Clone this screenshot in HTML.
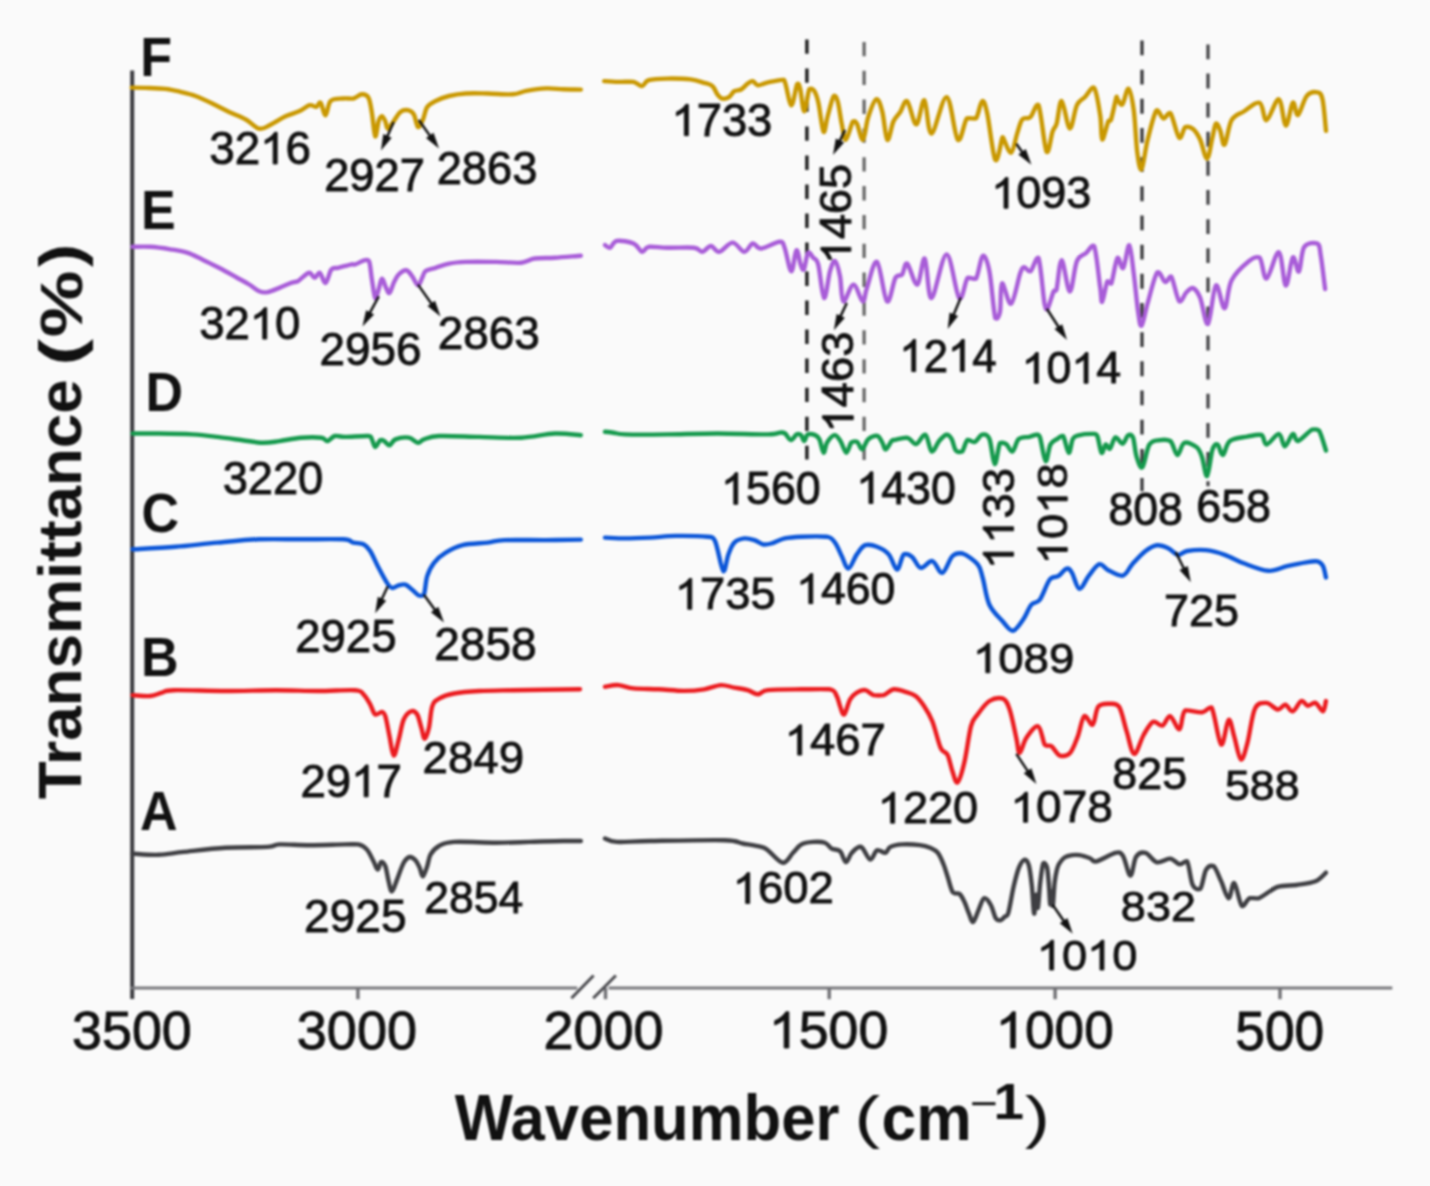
<!DOCTYPE html>
<html><head><meta charset="utf-8"><style>
html,body{margin:0;padding:0;background:#fafafa;}
svg{display:block;filter:blur(1.0px);}
text{font-family:"Liberation Sans",sans-serif;}
</style></head><body>
<svg width="1430" height="1186" viewBox="0 0 1430 1186">
<rect x="0" y="0" width="1430" height="1186" fill="#fafafa"/>

<line x1="806.9" y1="39.4" x2="806.9" y2="459.5" stroke="#1c1c1c" stroke-width="3.4" stroke-dasharray="14.4 14.62"/>
<line x1="864.1" y1="41.9" x2="864.1" y2="461" stroke="#636363" stroke-width="3.2" stroke-dasharray="14.3 14.54"/>
<line x1="1142" y1="40.5" x2="1142" y2="491.3" stroke="#333336" stroke-width="3.2" stroke-dasharray="14.8 14.37"/>
<line x1="1208" y1="44.5" x2="1208" y2="486.2" stroke="#404043" stroke-width="3.2" stroke-dasharray="14.8 14.31"/>
<line x1="132.2" y1="70.5" x2="132.2" y2="999" stroke="#3a3a3e" stroke-width="4"/>
<line x1="130.2" y1="988" x2="577.3" y2="988" stroke="#77777b" stroke-width="3.2"/>
<line x1="608.6" y1="988" x2="1392.3" y2="988" stroke="#77777b" stroke-width="3.2"/>
<line x1="357.9" y1="988" x2="357.9" y2="999.2" stroke="#6f6f73" stroke-width="3.4"/>
<line x1="605.5" y1="988" x2="605.5" y2="999.2" stroke="#6f6f73" stroke-width="3.4"/>
<line x1="829.2" y1="988" x2="829.2" y2="999.2" stroke="#6f6f73" stroke-width="3.4"/>
<line x1="1055.1" y1="988" x2="1055.1" y2="999.2" stroke="#6f6f73" stroke-width="3.4"/>
<line x1="1280" y1="988" x2="1280" y2="999.2" stroke="#6f6f73" stroke-width="3.4"/>
<line x1="571.4" y1="998.2" x2="593.6" y2="975.5" stroke="#4a4a4e" stroke-width="3"/>
<line x1="593.2" y1="998.2" x2="615.9" y2="975.5" stroke="#4a4a4e" stroke-width="3"/>
<path d="M131.7,87.6 C133.9,87.6 139.5,87.7 145.1,87.9 C150.7,88.1 159.4,88.2 165.3,88.9 C171.2,89.5 175.4,90.6 180.4,91.8 C185.4,93.0 190.2,94.0 195.5,96.0 C200.8,98.0 206.7,100.8 212.3,103.5 C217.9,106.2 223.5,109.2 229.1,111.9 C234.7,114.6 240.8,116.7 245.8,119.5 C250.8,122.3 255.1,127.9 259.3,128.7 C263.5,129.5 266.5,126.6 271.0,124.5 C275.5,122.4 281.3,118.3 286.1,116.1 C290.9,113.9 295.7,112.9 299.6,111.1 C303.5,109.3 306.8,105.9 309.6,105.2 C312.4,104.5 314.5,107.3 316.3,106.9 C318.1,106.5 318.9,101.6 320.5,102.7 C322.1,104.1 323.9,115.6 325.6,115.3 C327.3,115.0 327.7,103.8 330.6,101.0 C333.5,98.2 339.4,98.9 343.2,98.5 C347.0,98.1 350.3,99.0 353.4,98.5 C356.5,97.8 359.3,94.4 361.8,94.3 C364.3,94.2 366.8,94.6 368.5,97.7 C370.2,100.8 370.8,106.4 371.9,112.8 C373.0,119.2 374.1,134.9 375.2,136.3 C376.3,137.7 377.5,124.6 378.6,121.2 C379.7,117.8 380.8,116.1 381.9,116.1 C383.0,116.1 384.3,119.1 385.3,121.2 C386.3,123.3 386.4,128.7 387.8,128.7 C389.2,128.7 391.6,124.0 393.7,121.2 C395.8,118.4 398.0,113.7 400.4,111.9 C402.8,110.1 405.7,109.8 407.9,110.2 C410.1,110.6 412.1,111.6 413.8,114.4 C415.5,117.2 416.5,126.2 418.0,127.0 C419.5,127.8 421.5,122.8 423.0,119.5 C424.5,116.2 425.1,110.0 427.2,106.9 C429.3,103.8 432.0,102.8 435.6,101.0 C439.2,99.2 444.1,97.2 449.1,96.0 C454.1,94.8 459.4,93.9 465.8,93.5 C472.2,93.1 479.9,93.4 487.7,93.5 C495.5,93.6 506.4,94.7 512.8,94.3 C519.2,93.9 520.7,91.9 526.3,90.9 C531.9,89.9 540.2,88.7 546.4,88.4 C552.5,88.1 557.5,89.1 563.2,89.3 C568.9,89.5 577.9,89.5 580.8,89.6" fill="none" stroke="#c99800" stroke-width="4.4" stroke-linejoin="round" stroke-linecap="round"/>
<path d="M604.2,81.1 C606.9,81.2 615.2,81.8 620.1,81.9 C625.0,82.0 630.0,81.4 633.6,81.9 C637.2,82.6 639.5,86.4 642.0,86.1 C644.5,85.8 644.5,81.5 648.7,80.2 C652.9,79.0 660.1,78.7 667.1,78.6 C674.1,78.5 684.4,78.7 690.6,79.4 C696.8,80.1 700.5,81.7 704.1,82.8 C707.8,83.9 710.3,84.1 712.5,86.1 C714.7,88.0 715.8,92.4 717.5,94.5 C719.2,96.6 720.5,98.3 722.5,98.7 C724.5,99.1 727.2,98.2 729.2,97.0 C731.2,95.8 732.3,92.5 734.3,91.2 C736.3,90.0 738.8,90.8 741.0,89.5 C743.2,88.2 745.8,85.0 747.7,83.6 C749.7,82.2 751.0,80.8 752.7,81.1 C754.4,81.4 755.5,85.0 757.8,85.3 C760.0,85.6 763.4,83.5 766.2,82.8 C769.0,82.1 771.6,81.6 774.6,81.1 C777.6,80.6 781.2,79.3 784.0,80.0 C786.8,84.0 788.9,104.6 791.1,105.3 C793.3,106.0 795.7,86.8 797.2,84.1 C798.7,82.8 799.0,84.5 800.2,89.1 C801.4,93.6 802.8,111.4 804.3,111.4 C805.8,111.4 807.7,92.5 809.4,89.1 C811.1,88.3 812.9,88.8 814.4,91.2 C815.9,93.6 817.0,96.5 818.5,103.3 C820.0,110.0 822.0,129.5 823.5,131.7 C825.0,133.9 825.9,122.4 827.6,116.5 C829.3,110.6 831.9,98.7 833.6,96.2 C835.3,94.9 836.4,96.7 837.7,101.3 C839.1,105.9 840.4,117.2 841.7,123.6 C843.1,130.0 843.9,140.2 845.8,139.8 C847.7,139.5 851.0,124.2 852.9,121.5 C854.8,120.7 855.2,120.7 856.9,123.6 C858.6,126.6 861.1,140.8 863.0,139.8 C864.9,138.8 865.9,124.2 868.1,117.5 C870.3,110.8 873.9,100.3 876.2,99.3 C878.6,98.3 880.4,104.6 882.2,111.4 C884.1,118.1 885.4,138.1 887.3,139.8 C889.2,141.5 891.3,126.1 893.4,121.5 C895.5,116.9 897.8,115.7 900.1,112.3 C902.4,108.9 904.5,99.2 907.2,101.2 C909.9,103.2 913.4,124.6 916.3,124.4 C919.2,124.2 921.9,98.7 924.4,100.2 C926.9,101.7 927.8,134.1 931.5,133.6 C935.2,133.1 942.3,96.1 946.7,97.1 C951.1,98.1 954.4,136.1 957.8,139.6 C961.2,143.2 963.9,121.9 966.9,118.4 C969.9,117.9 973.5,118.9 976.0,118.4 C978.5,115.5 980.2,102.0 982.1,101.2 C984.0,100.4 985.0,103.5 987.2,113.3 C989.4,123.1 992.8,155.8 995.3,159.9 C997.8,163.7 1001.0,141.3 1002.3,137.6 C1003.0,137.0 1002.3,137.0 1003.0,137.5 C1004.5,140.0 1008.7,153.4 1011.1,152.7 C1013.5,152.0 1015.3,139.0 1017.2,133.4 C1019.1,127.8 1020.1,122.0 1022.3,119.3 C1024.5,116.6 1027.7,119.6 1030.4,117.2 C1033.1,114.8 1035.8,102.8 1038.5,105.1 C1041.2,110.8 1044.2,147.3 1046.6,151.7 C1048.9,155.2 1050.9,136.1 1052.6,131.4 C1054.3,126.7 1055.2,128.4 1056.7,123.3 C1058.2,118.2 1059.5,100.2 1061.7,101.0 C1063.9,101.8 1067.3,127.7 1069.8,128.4 C1072.3,129.1 1074.4,110.3 1076.9,105.1 C1079.4,99.9 1082.1,99.9 1085.0,97.0 C1087.9,94.1 1091.6,86.0 1094.1,87.9 C1096.6,90.9 1098.8,106.6 1100.2,115.2 C1101.6,123.8 1100.9,138.5 1102.2,139.5 C1103.5,140.5 1106.8,124.6 1108.3,121.3 C1109.8,119.1 1109.7,122.0 1111.0,119.8 C1112.3,115.8 1115.4,100.6 1116.4,97.0 C1117.1,96.3 1116.4,97.1 1117.1,98.4 C1118.1,99.6 1120.4,105.9 1122.3,104.5 C1124.2,102.9 1126.6,87.9 1128.5,88.8 C1130.4,89.7 1132.2,99.3 1133.7,109.8 C1135.2,120.3 1135.9,141.8 1137.2,151.7 C1138.5,161.6 1139.8,171.2 1141.6,169.2 C1143.3,167.2 1145.2,149.3 1147.7,139.5 C1150.2,129.7 1153.8,114.1 1156.4,110.6 C1159.0,108.9 1161.1,118.1 1163.4,118.5 C1165.7,118.9 1167.8,111.9 1170.4,113.2 C1173.0,116.4 1176.7,135.4 1179.2,137.7 C1181.7,139.8 1183.0,128.7 1185.3,127.2 C1187.6,126.4 1190.6,127.0 1193.1,129.0 C1195.6,131.1 1197.8,134.6 1200.1,139.5 C1202.4,144.4 1205.0,159.0 1207.1,158.7 C1209.1,158.4 1210.9,143.5 1212.4,137.7 C1213.9,131.9 1214.6,124.9 1215.9,123.7 C1217.2,122.5 1218.8,127.2 1220.2,130.7 C1221.7,134.2 1222.7,146.5 1224.6,144.7 C1226.5,143.0 1228.4,125.7 1231.6,120.2 C1234.8,114.7 1239.1,114.4 1243.8,111.5 C1248.5,108.6 1255.8,101.3 1259.6,102.8 C1263.4,104.2 1263.4,120.8 1266.6,120.2 C1269.8,119.6 1275.6,98.4 1278.8,99.3 C1282.0,100.2 1283.5,124.9 1285.8,125.5 C1288.1,126.1 1290.8,104.5 1292.8,102.8 C1294.8,101.0 1295.7,116.2 1298.0,115.0 C1300.3,113.8 1303.6,99.6 1306.8,95.8 C1310.0,92.0 1314.7,91.7 1317.3,92.3 C1319.9,92.9 1321.0,92.9 1322.5,99.3 C1324.0,105.7 1325.4,125.5 1326.0,130.7" fill="none" stroke="#c99800" stroke-width="4.4" stroke-linejoin="round" stroke-linecap="round"/>
<path d="M132.6,246.8 C135.5,246.8 143.9,246.4 150.2,246.8 C156.5,247.2 164.2,248.3 170.3,249.3 C176.5,250.3 181.8,251.0 187.1,252.7 C192.4,254.4 196.9,256.9 202.2,259.4 C207.5,261.9 213.4,264.9 219.0,267.8 C224.6,270.7 230.8,274.2 235.8,277.0 C240.8,279.8 245.3,282.1 249.2,284.5 C253.1,286.9 256.2,290.0 259.3,291.3 C262.4,292.6 264.4,292.7 267.7,292.1 C271.0,291.5 275.5,289.4 279.4,287.9 C283.3,286.4 288.1,284.0 291.2,282.9 C294.3,281.8 295.9,282.2 297.9,281.2 C299.8,280.2 300.9,278.4 302.9,277.0 C304.8,275.6 307.6,272.7 309.6,272.8 C311.6,272.9 313.0,277.8 314.7,277.8 C316.4,277.8 317.9,271.9 319.7,272.8 C321.5,273.7 323.7,283.5 325.6,282.9 C327.6,282.3 329.3,271.9 331.4,269.4 C333.5,267.1 334.8,268.6 338.2,267.8 C341.6,267.0 348.8,265.0 351.6,264.4 C354.4,263.9 352.9,264.9 355.1,264.4 C357.4,263.7 362.7,260.6 365.1,260.2 C367.5,259.8 368.2,259.4 369.3,261.9 C370.4,265.1 370.9,273.5 371.9,279.5 C372.9,285.5 374.1,296.3 375.2,298.0 C376.3,299.7 377.5,292.8 378.6,289.6 C379.7,286.4 380.6,279.0 381.9,278.7 C383.1,278.4 384.8,285.5 386.1,287.9 C387.4,290.3 388.2,293.7 389.5,292.9 C390.8,292.1 392.2,286.0 393.7,282.9 C395.2,279.8 396.6,276.6 398.7,274.5 C400.8,272.4 404.1,270.0 406.3,270.3 C408.5,270.6 410.2,273.7 412.1,276.2 C414.1,278.7 416.3,285.1 418.0,285.4 C419.7,285.7 420.9,280.2 422.2,277.8 C423.5,275.4 423.4,272.8 425.6,271.1 C427.8,269.4 431.7,269.1 435.6,267.8 C439.5,266.6 444.1,264.6 449.1,263.6 C454.1,262.6 458.0,262.2 465.8,261.9 C473.6,261.6 486.9,261.8 496.1,261.9 C505.3,262.0 514.8,263.3 521.2,262.7 C527.6,262.1 529.1,259.3 534.7,258.5 C540.3,257.7 547.1,258.2 554.8,257.7 C562.5,257.2 576.5,256.0 580.8,255.7" fill="none" stroke="#a85cd8" stroke-width="4.4" stroke-linejoin="round" stroke-linecap="round"/>
<path d="M605.0,245.1 C605.9,245.5 608.1,248.4 610.1,247.7 C612.1,247.0 612.9,241.6 616.8,240.9 C620.7,240.2 629.4,241.7 633.6,243.5 C637.8,245.3 639.5,251.2 642.0,251.8 C644.5,252.4 644.5,247.5 648.7,246.8 C652.9,246.2 659.6,247.6 667.1,247.7 C674.6,247.9 688.1,247.2 694.0,247.7 C699.9,248.4 699.6,252.1 702.4,251.8 C705.2,251.5 708.0,246.0 710.8,246.0 C713.6,246.0 715.6,252.4 719.2,251.8 C722.8,251.2 728.4,242.6 732.6,242.6 C736.8,242.6 740.9,251.7 744.3,251.8 C747.6,252.0 749.9,244.1 752.7,243.5 C755.5,242.9 756.6,248.8 761.1,248.5 C765.6,248.2 775.7,241.9 779.6,241.8 C783.5,241.7 782.7,242.8 784.6,247.7 C786.5,252.6 789.3,270.8 791.3,271.2 C793.3,271.6 794.8,251.3 796.4,250.2 C798.0,249.1 799.4,261.2 800.6,264.4 C801.9,267.6 802.6,270.8 803.9,269.5 C805.1,267.6 806.5,254.7 808.1,252.7 C809.7,251.5 811.5,255.8 813.2,257.7 C814.9,259.6 816.4,257.7 818.2,264.4 C820.0,271.1 822.1,296.9 824.1,298.0 C826.1,299.1 828.2,277.3 830.0,271.2 C831.8,265.1 833.3,260.3 835.0,261.1 C836.7,261.9 838.6,269.5 840.0,276.2 C841.4,282.9 841.1,300.0 843.4,301.4 C845.6,302.8 850.3,284.6 853.5,284.6 C856.7,284.6 860.5,300.9 862.7,301.4 C864.9,302.0 864.5,294.5 866.9,287.9 C869.3,281.3 873.6,259.7 877.0,261.9 C880.4,264.2 883.9,298.7 887.0,301.4 C890.1,304.1 892.9,282.4 895.4,277.9 C897.9,273.5 900.1,276.9 902.1,274.5 C904.1,272.1 904.7,261.9 907.2,263.6 C909.7,265.3 914.3,285.4 917.2,284.6 C920.1,283.8 922.4,256.4 924.8,258.6 C927.2,260.8 927.9,298.7 931.5,298.0 C935.1,297.3 942.0,254.4 946.6,254.4 C951.2,254.4 955.7,294.1 959.2,298.0 C962.7,301.5 964.8,281.1 967.6,277.9 C970.4,277.3 973.5,279.3 976.0,278.7 C978.5,275.0 980.5,257.2 982.7,256.0 C984.9,254.8 987.3,260.8 989.4,271.2 C991.5,281.6 993.5,311.3 995.3,318.1 C997.1,319.5 998.9,317.6 1000.0,311.8 C1001.1,306.0 1000.1,284.8 1002.0,283.4 C1003.9,282.1 1008.1,305.4 1011.1,303.7 C1014.1,302.0 1018.0,279.4 1020.2,273.3 C1022.4,267.2 1022.6,267.5 1024.3,267.2 C1026.0,266.9 1028.0,272.4 1030.4,271.3 C1032.8,269.8 1036.2,255.6 1038.5,258.1 C1040.8,263.5 1043.0,295.3 1044.5,303.7 C1046.0,309.9 1046.1,309.9 1047.6,308.7 C1049.1,306.7 1052.1,294.6 1053.6,291.5 C1055.1,289.0 1055.2,292.3 1056.5,289.8 C1057.8,284.6 1059.5,259.9 1061.7,260.2 C1063.9,260.5 1067.3,291.3 1069.8,291.5 C1072.3,291.7 1074.2,267.6 1076.9,261.2 C1079.6,254.8 1083.1,255.6 1086.0,253.1 C1088.9,250.6 1091.7,244.4 1094.1,246.0 C1096.5,251.7 1098.8,278.2 1100.2,287.5 C1101.6,296.8 1101.0,302.7 1102.2,301.7 C1103.4,300.7 1105.8,284.5 1107.3,281.4 C1108.8,280.6 1109.6,284.2 1111.3,283.4 C1113.0,279.5 1115.4,260.7 1117.4,258.1 C1119.4,256.1 1121.2,270.0 1123.2,268.0 C1125.2,265.9 1127.5,244.4 1129.3,245.3 C1131.0,246.2 1132.2,262.1 1133.7,273.2 C1135.2,284.3 1136.8,302.9 1138.1,311.7 C1139.4,320.4 1140.0,327.1 1141.6,325.7 C1143.2,324.2 1145.1,311.9 1147.7,303.0 C1150.3,294.1 1154.4,275.9 1157.3,272.4 C1160.2,270.5 1162.9,281.3 1165.2,282.0 C1167.5,282.7 1169.0,275.4 1171.3,276.7 C1173.6,279.9 1176.7,298.6 1179.2,301.2 C1181.7,303.0 1183.9,294.7 1186.2,292.5 C1188.5,290.3 1190.8,287.2 1193.1,288.1 C1195.4,289.0 1197.6,291.7 1200.1,297.7 C1202.6,303.7 1205.4,325.9 1208.0,323.9 C1210.6,321.9 1213.1,288.1 1215.9,285.5 C1218.7,282.9 1222.0,309.1 1224.6,308.2 C1227.2,307.3 1227.5,288.1 1231.6,280.2 C1235.7,272.3 1244.4,264.8 1249.1,261.0 C1253.8,257.2 1256.7,256.5 1259.6,257.5 C1262.5,260.4 1263.4,279.4 1266.6,278.5 C1269.8,277.6 1275.6,251.1 1278.8,252.3 C1282.0,253.5 1283.5,284.6 1285.8,285.5 C1288.1,286.4 1290.6,259.8 1292.8,257.5 C1295.0,255.2 1297.0,273.2 1298.9,271.5 C1300.8,269.8 1301.1,251.7 1304.2,247.0 C1307.3,242.5 1314.5,242.5 1317.3,243.5 C1320.1,245.0 1319.5,248.2 1320.8,255.8 C1322.1,263.4 1324.4,283.5 1325.1,289.0" fill="none" stroke="#a85cd8" stroke-width="4.4" stroke-linejoin="round" stroke-linecap="round"/>
<path d="M132.6,433.5 C136.9,433.5 148.7,433.4 158.6,433.5 C168.5,433.6 182.3,433.8 192.1,434.4 C201.9,435.0 208.9,435.9 217.3,436.9 C225.7,437.9 234.9,439.2 242.5,440.2 C250.1,441.2 256.5,442.6 262.6,442.8 C268.8,443.0 273.0,442.0 279.4,441.1 C285.8,440.2 294.2,438.3 301.2,437.7 C308.2,437.2 317.0,437.2 321.4,437.7 C325.8,438.3 325.1,441.4 327.3,441.1 C329.5,440.8 331.9,436.7 334.8,436.0 C337.8,435.4 339.4,436.9 345.0,436.9 C350.6,436.9 364.0,435.6 368.5,436.0 C371.9,436.4 370.8,437.6 371.9,439.4 C373.0,441.2 373.8,446.9 375.2,447.0 C376.6,447.1 378.7,441.2 380.2,440.2 C381.7,439.6 382.4,439.9 384.0,440.8 C385.6,441.7 387.6,445.5 389.5,445.3 C391.4,445.1 392.2,440.7 395.4,439.4 C398.6,438.1 405.0,437.1 408.8,437.7 C412.6,438.3 415.5,442.5 418.0,442.8 C420.5,443.1 420.4,440.5 423.9,439.4 C427.4,438.3 429.8,436.4 439.0,436.0 C448.2,435.6 465.6,436.6 479.3,436.9 C493.0,437.2 508.6,438.3 521.2,437.7 C533.8,437.1 544.9,433.9 554.8,433.5 C564.7,433.1 576.5,434.9 580.8,435.2" fill="none" stroke="#14994c" stroke-width="4.4" stroke-linejoin="round" stroke-linecap="round"/>
<path d="M605.0,431.8 C606.4,431.9 610.0,432.3 613.4,432.7 C616.8,433.1 616.2,434.1 625.2,434.4 C634.2,434.7 651.7,434.6 667.1,434.4 C682.5,434.2 700.7,433.5 717.5,433.5 C734.3,433.5 757.4,434.6 767.8,434.4 C778.2,434.3 777.1,432.8 780.0,432.6 C782.9,432.4 783.2,432.2 785.0,433.4 C786.8,434.7 788.9,440.0 790.9,440.1 C792.9,440.2 795.1,435.1 796.8,434.3 C798.5,433.7 799.8,434.0 801.0,435.1 C802.2,436.2 803.2,441.1 804.3,441.0 C805.4,440.9 805.9,435.3 807.7,434.3 C809.5,433.7 813.2,434.3 815.2,435.1 C817.2,435.9 818.0,436.4 819.4,439.3 C820.8,442.2 822.3,452.1 823.6,452.7 C824.9,453.2 825.2,445.5 827.0,442.6 C828.8,439.7 832.3,435.4 834.5,435.1 C836.7,434.8 838.4,438.1 840.4,441.0 C842.4,443.9 844.5,452.4 846.3,452.7 C848.1,453.0 849.5,444.4 851.3,442.6 C853.1,441.2 855.4,441.2 857.2,441.8 C859.0,442.9 860.4,449.8 862.2,449.4 C864.0,449.0 865.6,441.6 868.1,439.3 C870.6,437.1 874.9,435.4 877.3,435.9 C879.7,436.5 880.9,440.4 882.3,442.6 C883.7,444.9 884.2,449.7 885.7,449.4 C887.2,449.1 890.1,442.6 891.6,441.0 C893.1,439.4 892.3,440.4 895.0,439.9 C897.7,439.4 904.1,437.1 907.6,437.8 C911.1,438.5 913.0,444.6 916.0,444.1 C919.0,443.6 922.8,433.5 925.4,434.7 C928.0,435.9 929.4,450.4 931.7,451.5 C934.0,452.6 936.7,443.8 939.1,441.0 C941.5,438.2 944.3,435.0 946.4,434.7 C948.5,434.4 950.0,436.3 951.6,438.9 C953.2,441.5 954.0,448.3 955.8,450.4 C957.5,452.2 960.2,452.2 962.1,451.5 C964.0,449.8 965.3,441.5 967.4,439.9 C969.5,439.1 972.2,442.8 974.7,442.0 C977.2,441.1 979.7,435.2 982.1,434.7 C984.5,434.2 987.3,434.0 989.4,438.9 C991.5,443.8 992.9,463.4 994.7,464.1 C996.5,464.8 998.1,446.4 1000.0,443.1 C1001.9,442.5 1004.1,442.7 1006.2,444.1 C1008.3,445.5 1010.4,452.4 1012.5,451.5 C1014.6,450.6 1016.0,441.4 1018.8,438.9 C1021.6,436.5 1026.3,437.5 1029.3,436.8 C1032.3,436.1 1034.8,434.6 1036.6,434.7 C1038.4,434.8 1038.5,433.8 1040.0,437.4 C1041.5,441.8 1043.8,459.9 1045.6,461.1 C1047.3,462.3 1048.5,448.1 1050.5,444.4 C1052.5,440.7 1055.4,440.2 1057.5,438.8 C1059.6,437.4 1061.2,435.1 1063.1,436.0 C1065.0,438.3 1067.1,452.3 1068.7,452.8 C1070.3,453.3 1071.3,441.7 1072.9,438.8 C1074.5,435.9 1075.2,436.1 1078.5,435.3 C1081.8,434.5 1089.3,433.8 1092.4,433.9 C1095.5,434.0 1095.8,433.1 1097.3,436.0 C1098.8,439.1 1100.1,451.4 1101.5,452.8 C1102.9,454.2 1104.3,445.1 1105.7,444.4 C1107.1,443.7 1108.3,449.7 1109.9,448.6 C1111.5,447.4 1113.4,438.2 1115.5,437.4 C1117.6,436.6 1120.4,444.1 1122.5,443.7 C1124.6,443.3 1126.3,436.4 1128.1,435.3 C1129.8,434.5 1131.6,434.5 1133.0,437.4 C1134.4,440.9 1134.9,451.3 1136.5,456.3 C1138.1,461.3 1140.2,469.2 1142.4,467.2 C1144.6,465.2 1146.5,449.0 1149.4,444.5 C1152.3,440.0 1156.4,440.7 1159.9,440.1 C1163.4,439.5 1167.5,439.5 1170.4,441.0 C1173.3,443.5 1175.1,454.7 1177.4,455.0 C1179.7,455.3 1181.2,444.1 1184.4,442.8 C1187.6,441.7 1193.7,444.8 1196.6,447.1 C1199.5,449.4 1200.2,451.9 1201.9,456.7 C1203.7,461.5 1205.3,477.1 1207.1,476.0 C1208.8,474.9 1210.7,455.1 1212.4,449.8 C1214.2,444.6 1215.8,443.6 1217.6,444.5 C1219.3,445.4 1220.9,455.6 1222.9,455.0 C1225.0,454.4 1225.8,444.1 1229.9,441.0 C1234.0,437.9 1242.1,437.6 1247.3,436.6 C1252.5,435.6 1258.1,434.1 1261.3,434.9 C1264.5,436.2 1263.7,444.6 1266.6,444.5 C1269.5,444.4 1275.8,433.7 1278.8,434.0 C1281.8,434.3 1282.6,446.3 1284.9,446.3 C1287.2,446.3 1290.6,434.9 1292.8,434.0 C1295.0,433.1 1294.8,441.7 1298.0,441.0 C1301.2,440.3 1308.5,431.4 1312.0,429.6 C1315.5,429.0 1316.7,429.0 1319.0,430.5 C1321.3,434.0 1324.8,447.2 1326.0,450.6" fill="none" stroke="#14994c" stroke-width="4.4" stroke-linejoin="round" stroke-linecap="round"/>
<path d="M132.6,549.3 C139.7,548.9 161.3,547.9 175.4,546.8 C189.5,545.7 203.3,543.8 217.3,542.6 C231.3,541.3 245.3,539.8 259.3,539.3 C273.3,538.8 287.2,539.3 301.2,539.3 C315.2,539.3 334.5,538.8 343.2,539.3 C351.9,539.8 350.0,541.8 353.4,542.6 C356.8,543.4 360.7,542.9 363.5,544.3 C366.3,545.7 367.7,547.1 370.2,551.0 C372.7,554.9 375.8,562.5 378.6,567.8 C381.4,573.1 384.8,579.5 387.0,582.9 C389.2,586.2 390.1,587.5 392.0,587.9 C393.9,588.3 396.5,586.0 398.7,585.4 C400.9,584.8 403.2,584.0 405.4,584.6 C407.6,585.3 409.9,587.8 412.1,589.6 C414.4,591.4 416.9,594.6 418.9,595.5 C420.9,596.1 422.5,596.1 423.9,594.7 C425.3,591.5 425.5,581.5 427.2,576.2 C428.9,570.9 430.9,566.7 434.0,562.8 C437.1,558.9 440.9,555.6 445.7,552.7 C450.4,549.7 455.5,546.8 462.5,545.1 C469.5,543.4 480.7,543.4 487.7,542.6 C494.7,541.8 494.6,540.5 504.4,540.1 C514.2,539.7 533.7,540.2 546.4,540.1 C559.1,540.0 575.1,539.7 580.8,539.6" fill="none" stroke="#0a55d8" stroke-width="4.4" stroke-linejoin="round" stroke-linecap="round"/>
<path d="M605.0,537.6 C608.4,537.7 617.6,538.4 625.2,538.4 C632.8,538.4 642.0,538.0 650.4,537.6 C658.8,537.2 666.0,536.0 675.5,535.9 C685.0,535.8 701.0,536.1 707.4,536.7 C713.8,537.3 712.4,537.2 714.1,539.3 C715.8,541.4 716.0,544.0 717.5,549.3 C719.0,554.6 721.6,570.3 723.4,571.2 C725.2,572.0 726.6,559.2 728.4,554.4 C730.2,549.6 731.6,545.3 734.3,542.6 C736.9,539.9 740.9,538.8 744.3,538.4 C747.6,538.0 751.3,539.1 754.4,540.1 C757.5,541.1 760.0,543.7 762.8,544.3 C765.6,544.9 767.6,544.5 771.2,543.5 C774.8,542.5 779.6,539.5 784.6,538.4 C789.6,537.3 794.4,537.0 801.4,536.7 C808.4,536.4 821.0,536.2 826.6,536.7 C832.2,537.7 832.5,539.4 835.0,542.6 C837.5,545.8 839.5,551.7 841.7,556.0 C843.9,560.3 845.9,568.9 848.4,568.6 C850.9,568.3 854.0,558.3 856.8,554.4 C859.6,550.5 861.8,546.4 865.2,545.1 C868.6,544.3 873.1,545.2 877.0,546.8 C880.9,548.3 885.4,550.6 888.7,554.4 C892.1,558.2 894.6,569.5 897.1,569.5 C899.6,569.5 901.3,556.5 903.8,554.4 C906.3,553.5 909.4,554.7 912.2,556.9 C915.0,559.1 917.2,567.1 920.6,567.8 C924.0,568.5 928.7,560.3 932.3,561.1 C935.9,561.9 939.0,573.6 942.4,572.8 C945.8,571.9 949.1,559.2 952.5,556.0 C955.9,552.8 958.4,552.6 962.6,553.5 C966.8,554.9 974.4,560.3 977.7,564.4 C981.1,568.5 980.8,571.2 982.7,577.9 C984.7,584.6 986.0,597.4 989.4,604.7 C992.8,612.0 998.9,617.2 1002.8,621.5 C1006.7,625.8 1009.5,631.0 1012.9,630.7 C1016.3,630.4 1019.9,624.1 1023.0,619.8 C1026.1,615.5 1028.6,608.0 1031.4,604.7 C1034.2,601.3 1036.7,603.9 1039.8,599.7 C1042.9,595.5 1046.7,583.4 1049.8,579.5 C1052.9,575.6 1055.4,578.0 1058.2,576.2 C1061.0,574.4 1064.3,569.2 1066.6,568.6 C1068.9,568.0 1069.9,569.4 1072.0,572.8 C1074.1,576.2 1076.6,588.3 1079.4,588.8 C1082.2,589.3 1085.6,579.7 1088.9,575.6 C1092.2,571.5 1096.2,565.1 1099.3,564.2 C1102.4,563.2 1103.9,568.0 1107.8,569.9 C1111.7,571.8 1118.8,576.5 1122.9,575.6 C1127.0,574.6 1128.5,568.3 1132.3,564.2 C1136.1,560.1 1141.4,554.1 1145.5,551.0 C1149.6,547.9 1153.1,545.8 1156.9,545.3 C1160.7,544.8 1164.8,546.6 1168.2,548.2 C1171.7,549.8 1174.4,554.3 1177.6,554.8 C1180.8,555.3 1182.4,551.8 1187.1,551.0 C1191.8,550.2 1199.7,549.5 1206.0,550.1 C1212.3,550.7 1218.5,552.6 1224.8,554.8 C1231.1,557.0 1236.5,560.6 1243.7,563.3 C1251.0,566.0 1261.1,570.3 1268.3,570.8 C1275.5,571.3 1280.8,567.5 1287.1,566.1 C1293.4,564.7 1301.0,563.1 1306.0,562.3 C1311.0,561.5 1314.6,560.8 1317.4,561.4 C1320.2,562.0 1321.6,563.4 1323.0,566.1 C1324.4,568.8 1325.4,575.5 1325.9,577.4" fill="none" stroke="#0a55d8" stroke-width="4.4" stroke-linejoin="round" stroke-linecap="round"/>
<path d="M132.6,695.2 C135.5,695.3 145.3,696.4 150.2,696.0 C155.1,695.6 158.0,693.7 161.9,692.7 C165.8,691.7 163.1,690.5 173.7,690.2 C184.3,689.9 208.6,691.0 225.7,691.0 C242.8,691.0 260.7,690.2 276.1,690.2 C291.5,690.2 304.8,691.0 318.0,691.0 C331.2,691.0 347.5,689.6 355.1,690.2 C362.7,690.8 361.0,692.0 363.5,694.4 C366.0,696.8 368.2,701.0 370.2,704.4 C372.1,707.8 373.2,713.2 375.2,714.5 C377.1,715.4 380.2,711.7 381.9,712.0 C383.6,712.3 384.0,712.1 385.3,716.2 C386.6,720.2 388.1,729.7 389.5,736.3 C390.9,742.9 392.2,755.0 393.7,755.6 C395.2,756.2 397.0,745.7 398.7,739.7 C400.4,733.7 401.6,724.2 403.7,719.5 C405.8,714.8 409.1,712.0 411.3,711.2 C413.6,710.4 415.5,711.7 417.2,714.5 C418.9,717.3 420.1,723.9 421.4,727.9 C422.6,731.9 423.4,738.8 424.7,738.8 C425.9,738.8 427.6,733.4 428.9,727.9 C430.2,722.4 430.6,711.0 432.3,706.1 C434.0,701.2 435.4,700.7 439.0,698.6 C442.6,696.5 447.4,694.8 454.1,693.5 C460.8,692.2 469.5,691.5 479.3,691.0 C489.1,690.5 496.0,690.5 512.8,690.2 C529.6,689.9 568.8,689.4 580.0,689.3" fill="none" stroke="#eb1a1e" stroke-width="4.4" stroke-linejoin="round" stroke-linecap="round"/>
<path d="M605.0,686.7 C607.2,686.4 613.7,684.8 618.5,685.1 C623.3,685.4 626.9,687.7 633.6,688.4 C640.3,689.1 650.3,688.9 658.7,689.3 C667.1,689.7 676.3,690.9 683.9,690.9 C691.5,690.9 698.0,690.3 704.1,689.3 C710.2,688.3 715.8,685.4 720.8,685.1 C725.8,684.8 729.8,686.8 734.3,687.6 C738.8,688.4 743.8,689.0 747.7,690.1 C751.6,691.2 754.4,694.3 757.8,694.3 C761.1,694.3 760.5,690.9 767.8,690.1 C775.1,689.3 791.0,689.4 801.4,689.3 C811.8,689.2 824.0,688.8 829.9,689.3 C835.8,690.4 835.0,693.2 836.7,696.0 C838.4,698.8 838.8,702.9 840.0,706.0 C841.2,709.1 842.5,715.5 844.2,714.4 C845.9,713.3 848.0,702.9 850.1,699.3 C852.2,695.7 854.3,694.1 856.8,692.6 C859.3,691.1 862.4,689.7 865.2,690.1 C868.0,690.5 870.5,694.3 873.6,695.1 C876.7,695.6 880.4,695.6 883.7,695.1 C887.1,694.1 890.1,689.8 893.7,689.3 C897.3,688.8 901.9,690.7 905.5,691.8 C909.1,692.9 912.5,693.6 915.6,696.0 C918.7,698.4 921.2,701.8 924.0,706.0 C926.8,710.2 929.5,714.2 932.3,721.2 C935.1,728.2 938.2,742.4 940.7,748.0 C943.2,753.6 945.5,750.8 947.5,754.7 C949.5,758.6 950.8,766.9 952.5,771.5 C954.2,776.1 955.5,783.8 957.5,782.4 C959.5,781.0 962.0,772.5 964.2,763.1 C966.5,753.7 968.8,734.3 971.0,726.2 C973.2,718.1 974.6,718.6 977.7,714.4 C980.8,710.2 985.2,703.6 989.4,701.0 C993.6,698.4 999.4,697.6 1002.8,698.5 C1006.2,699.9 1007.4,702.8 1009.6,709.4 C1011.9,716.0 1014.6,730.6 1016.3,737.9 C1018.0,745.2 1017.9,753.0 1019.6,753.0 C1021.3,753.0 1023.2,742.4 1026.3,737.9 C1029.4,733.4 1035.0,725.1 1038.1,726.2 C1041.2,727.3 1042.6,741.3 1044.8,744.7 C1047.0,747.0 1049.0,744.5 1051.5,746.3 C1054.0,748.1 1056.8,754.5 1059.9,755.6 C1063.0,756.5 1067.0,756.1 1070.0,753.0 C1073.0,749.9 1075.2,743.0 1077.6,736.9 C1080.0,730.8 1081.7,718.1 1084.2,716.1 C1086.7,714.3 1090.4,726.2 1092.7,724.6 C1095.0,723.0 1095.5,710.2 1098.3,706.7 C1101.1,703.2 1106.2,703.8 1109.7,703.8 C1113.2,703.8 1116.3,702.9 1119.1,706.7 C1121.9,711.3 1124.1,723.3 1126.6,731.2 C1129.1,739.1 1131.4,753.3 1134.2,753.9 C1137.0,754.5 1140.4,740.4 1143.6,735.0 C1146.8,729.6 1149.9,723.4 1153.1,721.8 C1156.2,720.7 1159.7,726.5 1162.5,725.6 C1165.3,724.6 1167.3,715.5 1170.1,716.1 C1172.9,716.7 1177.0,730.2 1179.5,729.3 C1182.0,728.4 1181.4,713.3 1185.2,710.5 C1189.0,709.7 1197.8,712.8 1202.2,712.3 C1206.6,711.8 1208.4,706.4 1211.6,707.6 C1214.8,712.9 1218.3,742.3 1221.1,744.4 C1223.9,746.5 1226.4,721.1 1228.6,719.9 C1230.8,718.6 1232.2,730.3 1234.3,736.9 C1236.3,743.5 1238.7,758.5 1240.9,759.5 C1243.1,760.5 1245.2,751.1 1247.5,742.6 C1249.8,734.1 1251.8,715.2 1255.0,708.6 C1258.2,702.0 1262.6,702.8 1266.4,702.9 C1270.2,703.0 1274.6,709.2 1277.7,709.5 C1280.8,709.8 1282.8,704.5 1285.3,704.8 C1287.8,705.1 1290.1,712.0 1292.8,711.4 C1295.5,710.8 1298.8,702.0 1301.3,701.0 C1303.8,700.0 1305.5,705.4 1307.9,705.7 C1310.3,706.0 1313.0,702.0 1315.5,702.9 C1318.0,703.9 1321.3,711.7 1323.0,711.4 C1324.7,711.1 1325.4,702.7 1325.9,701.0" fill="none" stroke="#eb1a1e" stroke-width="4.4" stroke-linejoin="round" stroke-linecap="round"/>
<path d="M132.6,853.6 C136.9,853.8 150.1,855.1 158.6,854.8 C167.1,854.5 172.5,853.1 183.7,851.9 C194.9,850.7 211.7,848.5 225.7,847.7 C239.7,846.9 258.8,847.4 267.7,846.9 C276.6,846.4 272.4,844.7 279.4,844.4 C286.4,844.1 298.7,845.2 309.6,845.2 C320.5,845.2 336.9,844.5 345.0,844.4 C353.1,844.3 354.8,843.9 358.4,844.4 C362.0,845.2 364.3,846.6 366.8,849.4 C369.3,852.2 371.7,857.8 373.5,861.2 C375.3,864.5 376.4,869.4 377.7,869.5 C379.0,869.6 379.8,862.5 381.1,862.0 C382.4,861.5 384.1,863.0 385.3,866.2 C386.6,869.4 387.5,877.1 388.6,881.3 C389.7,885.5 390.6,891.7 392.0,891.4 C393.4,891.1 395.1,884.4 397.0,879.6 C398.9,874.8 401.6,866.6 403.7,862.8 C405.8,859.0 407.6,857.4 409.6,857.0 C411.6,856.6 413.8,858.5 415.5,860.3 C417.2,862.1 418.4,865.2 419.7,867.9 C420.9,870.6 421.8,876.6 423.0,876.3 C424.2,876.0 425.9,869.8 427.2,866.2 C428.5,862.5 428.6,857.8 430.6,854.4 C432.6,851.0 435.1,848.1 439.0,846.0 C442.9,843.9 444.6,842.5 454.1,841.9 C463.6,841.3 483.5,842.7 496.1,842.7 C508.7,842.7 518.4,842.2 529.6,841.9 C540.8,841.6 554.7,841.1 563.2,841.0 C571.7,840.9 577.9,841.0 580.8,841.0" fill="none" stroke="#3e3e42" stroke-width="4.4" stroke-linejoin="round" stroke-linecap="round"/>
<path d="M605.0,838.5 C607.0,839.1 609.2,841.5 616.8,841.9 C624.4,842.3 632.5,841.3 650.4,841.0 C668.3,840.7 708.8,839.8 724.2,840.2 C739.6,840.6 736.6,842.4 742.7,843.5 C748.9,844.6 756.9,845.8 761.1,846.9 C765.3,848.0 764.2,847.5 767.8,850.2 C771.4,852.8 778.7,862.4 782.9,862.8 C787.1,863.2 789.9,855.9 793.0,852.8 C796.1,849.7 798.0,846.2 801.4,844.4 C804.8,842.6 809.3,842.2 813.2,841.9 C817.1,841.6 821.8,841.6 824.9,842.7 C828.0,843.8 829.1,847.2 831.6,848.6 C834.1,850.0 837.6,848.9 840.0,851.1 C842.4,853.3 843.9,861.7 845.9,862.0 C847.9,862.3 849.3,855.3 851.8,852.8 C854.3,850.3 857.9,845.8 861.0,846.9 C864.1,848.0 867.5,859.0 870.2,859.5 C872.9,860.0 874.5,851.3 877.0,850.2 C879.5,849.3 883.2,853.3 885.4,852.8 C887.6,852.2 887.6,848.3 890.4,846.9 C893.2,845.5 897.2,844.7 902.1,844.4 C907.0,844.1 915.3,844.5 920.0,845.1 C924.7,845.6 927.1,846.4 930.1,847.7 C933.1,849.0 935.5,849.9 937.7,852.7 C940.0,855.5 941.9,860.4 943.6,864.5 C945.3,868.6 946.2,872.5 947.8,877.2 C949.3,881.8 950.9,889.6 952.9,892.4 C954.9,894.7 957.6,892.3 959.6,894.0 C961.6,895.7 963.2,899.3 964.7,902.5 C966.2,905.7 967.5,910.2 968.9,913.4 C970.3,916.6 971.5,922.3 973.1,921.9 C974.7,921.5 976.4,914.8 978.2,910.9 C980.0,907.0 982.0,899.3 984.1,898.3 C986.2,897.3 988.8,901.6 990.8,905.0 C992.8,908.4 994.2,916.0 995.9,918.5 C997.6,921.0 999.4,920.5 1000.9,920.2 C1002.4,919.9 1003.4,917.9 1004.6,916.7 C1005.8,915.5 1006.8,917.8 1008.3,912.9 C1009.8,907.8 1011.9,893.9 1013.7,886.3 C1015.5,878.7 1017.2,871.8 1019.0,867.4 C1020.8,863.0 1022.7,860.2 1024.3,859.8 C1025.9,859.4 1027.5,860.7 1028.8,865.1 C1030.1,869.5 1031.0,878.2 1031.9,886.3 C1032.8,894.4 1033.4,912.2 1034.1,913.6 C1034.8,915.0 1035.6,895.8 1036.2,894.8 C1036.8,893.8 1037.2,909.8 1037.9,907.8 C1038.6,905.8 1039.3,890.2 1040.2,882.8 C1041.1,875.4 1042.1,866.2 1043.2,863.6 C1044.3,862.5 1046.0,863.4 1047.0,867.4 C1048.0,871.4 1048.6,881.6 1049.1,887.8 C1049.6,893.9 1049.8,903.6 1050.2,904.3 C1050.6,905.0 1051.2,891.5 1051.6,891.8 C1052.0,892.0 1052.3,907.3 1052.8,905.8 C1053.3,904.3 1053.9,888.9 1054.6,882.8 C1055.3,876.7 1056.2,872.5 1057.0,869.3 C1057.8,866.1 1058.0,865.6 1059.2,863.6 C1060.5,861.6 1062.3,858.9 1064.5,857.5 C1066.7,856.1 1069.6,855.6 1072.1,855.2 C1074.6,854.8 1076.7,854.7 1079.7,855.2 C1082.7,855.7 1087.2,857.3 1090.0,858.3 C1092.8,859.3 1092.2,862.3 1096.4,861.4 C1100.6,860.5 1110.9,853.9 1115.3,852.9 C1119.7,852.0 1120.4,852.0 1122.9,855.7 C1125.4,859.5 1128.2,875.4 1130.4,875.6 C1132.6,875.8 1133.6,860.5 1136.1,856.7 C1138.6,852.9 1142.0,852.0 1145.5,852.9 C1149.0,853.8 1152.8,861.3 1156.9,862.3 C1161.0,863.2 1166.3,858.3 1170.1,858.6 C1173.9,858.9 1176.7,863.7 1179.5,864.2 C1182.3,864.7 1184.9,860.5 1187.1,861.4 C1189.3,864.9 1190.5,880.4 1192.7,885.0 C1194.9,889.6 1198.1,889.9 1200.3,888.8 C1202.5,886.3 1203.8,873.7 1206.0,869.9 C1208.2,866.1 1211.0,865.0 1213.5,866.1 C1216.0,868.0 1218.6,875.8 1221.1,881.2 C1223.6,886.5 1226.4,897.9 1228.6,898.2 C1230.8,898.5 1232.1,881.8 1234.3,883.1 C1236.5,884.4 1239.3,903.3 1241.8,905.8 C1244.3,907.4 1246.6,899.5 1249.4,898.2 C1252.2,897.7 1254.1,898.7 1258.8,898.2 C1263.5,896.3 1271.4,889.1 1277.7,886.9 C1284.0,884.7 1290.3,886.0 1296.6,885.0 C1302.9,884.0 1310.6,883.2 1315.5,881.2 C1320.4,879.1 1324.2,874.1 1325.9,872.7" fill="none" stroke="#3e3e42" stroke-width="4.4" stroke-linejoin="round" stroke-linecap="round"/>
<line x1="393.7" y1="122" x2="386.7" y2="137.7" stroke="#111" stroke-width="2.5"/>
<polygon points="381.0,150.5 383.3,134.0 391.7,137.8" fill="#111"/>
<line x1="418.8" y1="120" x2="430.9" y2="137.1" stroke="#111" stroke-width="2.5"/>
<polygon points="439.0,148.5 426.0,138.1 433.5,132.8" fill="#111"/>
<line x1="845" y1="130" x2="839.1" y2="142.4" stroke="#111" stroke-width="2.5"/>
<polygon points="833.0,155.0 835.8,138.6 844.1,142.6" fill="#111"/>
<line x1="1016.3" y1="143.8" x2="1023.2" y2="153.4" stroke="#111" stroke-width="2.5"/>
<polygon points="1031.4,164.8 1018.3,154.5 1025.8,149.1" fill="#111"/>
<line x1="378.8" y1="296.3" x2="369.1" y2="314.2" stroke="#111" stroke-width="2.5"/>
<polygon points="362.5,326.5 366.1,310.2 374.1,314.6" fill="#111"/>
<line x1="418" y1="284.6" x2="432.4" y2="305.0" stroke="#111" stroke-width="2.5"/>
<polygon points="440.5,316.4 427.5,306.0 435.0,300.7" fill="#111"/>
<line x1="846.8" y1="303" x2="839.9" y2="317.6" stroke="#111" stroke-width="2.5"/>
<polygon points="833.9,330.3 836.6,313.9 844.9,317.8" fill="#111"/>
<line x1="960.8" y1="297.6" x2="953.1" y2="316.1" stroke="#111" stroke-width="2.5"/>
<polygon points="947.7,329.0 949.6,312.5 958.1,316.0" fill="#111"/>
<line x1="1046.8" y1="308.7" x2="1059.4" y2="328.3" stroke="#111" stroke-width="2.5"/>
<polygon points="1067.0,340.1 1054.5,329.1 1062.2,324.2" fill="#111"/>
<line x1="387.8" y1="586.3" x2="381.1" y2="600.5" stroke="#111" stroke-width="2.5"/>
<polygon points="375.2,613.2 377.8,596.8 386.2,600.7" fill="#111"/>
<line x1="423.9" y1="594.7" x2="435.8" y2="611.1" stroke="#111" stroke-width="2.5"/>
<polygon points="444.0,622.4 430.9,612.2 438.3,606.7" fill="#111"/>
<line x1="1175.7" y1="552.1" x2="1184.5" y2="569.8" stroke="#111" stroke-width="2.5"/>
<polygon points="1190.8,582.3 1179.5,570.0 1187.8,565.9" fill="#111"/>
<line x1="1016.3" y1="753.9" x2="1028.6" y2="772.4" stroke="#111" stroke-width="2.5"/>
<polygon points="1036.4,784.1 1023.7,773.3 1031.4,768.2" fill="#111"/>
<line x1="1052.6" y1="904.8" x2="1064.7" y2="922.3" stroke="#111" stroke-width="2.5"/>
<polygon points="1072.7,933.8 1059.8,923.3 1067.4,918.0" fill="#111"/>
<g transform="translate(209.26,163.94) scale(1,1.0066)"><text x="0.00 25.44 76.32" y="0" font-size="45.7418741989064" fill="#111" stroke="#111" stroke-width="0.9">326</text><path d="M0.3726,0 L0.2847,0 L0.2847,-0.562 Q0.2529,-0.532 0.2012,-0.5015 Q0.1494,-0.4712 0.1084,-0.4561 L0.1084,-0.5411 Q0.1821,-0.5757 0.2373,-0.625 Q0.2925,-0.6744 0.3154,-0.7188 L0.3726,-0.7188 Z" transform="translate(50.88,0) scale(45.7418741989064,43.775)" fill="#111" stroke="#111" stroke-width="0.0197"/></g>
<g transform="translate(324.14,191.23) scale(1,1.0324)"><text x="0.00 25.18 50.37 75.55" y="0" font-size="45.28215849270309" fill="#111" stroke="#111" stroke-width="0.9">2927</text></g>
<g transform="translate(436.64,184.15) scale(1,1.0051)"><text x="0.00 25.17 50.33 75.50" y="0" font-size="45.248507050827214" fill="#111" stroke="#111" stroke-width="0.9">2863</text></g>
<g transform="translate(671.49,135.65) scale(1,1.0036)"><text x="25.20 50.41 75.61" y="0" font-size="45.31728547227942" fill="#111" stroke="#111" stroke-width="0.9">733</text><path d="M0.3726,0 L0.2847,0 L0.2847,-0.562 Q0.2529,-0.532 0.2012,-0.5015 Q0.1494,-0.4712 0.1084,-0.4561 L0.1084,-0.5411 Q0.1821,-0.5757 0.2373,-0.625 Q0.2925,-0.6744 0.3154,-0.7188 L0.3726,-0.7188 Z" transform="translate(0.00,0) scale(45.31728547227942,43.369)" fill="#111" stroke="#111" stroke-width="0.0199"/></g>
<g transform="translate(991.22,208.25) scale(1,0.9912)"><text x="25.04 50.08 75.13" y="0" font-size="45.027718152967665" fill="#111" stroke="#111" stroke-width="0.9">093</text><path d="M0.3726,0 L0.2847,0 L0.2847,-0.562 Q0.2529,-0.532 0.2012,-0.5015 Q0.1494,-0.4712 0.1084,-0.4561 L0.1084,-0.5411 Q0.1821,-0.5757 0.2373,-0.625 Q0.2925,-0.6744 0.3154,-0.7188 L0.3726,-0.7188 Z" transform="translate(0.00,0) scale(45.027718152967665,43.092)" fill="#111" stroke="#111" stroke-width="0.0200"/></g>
<g transform="translate(199.27,339.05) scale(1,1.0007)"><text x="0.00 25.28 75.83" y="0" font-size="45.449104955170455" fill="#111" stroke="#111" stroke-width="0.9">320</text><path d="M0.3726,0 L0.2847,0 L0.2847,-0.562 Q0.2529,-0.532 0.2012,-0.5015 Q0.1494,-0.4712 0.1084,-0.4561 L0.1084,-0.5411 Q0.1821,-0.5757 0.2373,-0.625 Q0.2925,-0.6744 0.3154,-0.7188 L0.3726,-0.7188 Z" transform="translate(50.55,0) scale(45.449104955170455,43.495)" fill="#111" stroke="#111" stroke-width="0.0198"/></g>
<g transform="translate(319.51,365.45) scale(1,0.9917)"><text x="0.00 25.50 51.01 76.51" y="0" font-size="45.858704760018846" fill="#111" stroke="#111" stroke-width="0.9">2956</text></g>
<g transform="translate(437.81,349.05) scale(1,0.9917)"><text x="0.00 25.50 51.01 76.51" y="0" font-size="45.858704760018874" fill="#111" stroke="#111" stroke-width="0.9">2863</text></g>
<g transform="translate(899.36,371.60) scale(1,1.0688)"><text x="24.30 72.91" y="0" font-size="43.69789547407702" fill="#111" stroke="#111" stroke-width="0.9">24</text><path d="M0.3726,0 L0.2847,0 L0.2847,-0.562 Q0.2529,-0.532 0.2012,-0.5015 Q0.1494,-0.4712 0.1084,-0.4561 L0.1084,-0.5411 Q0.1821,-0.5757 0.2373,-0.625 Q0.2925,-0.6744 0.3154,-0.7188 L0.3726,-0.7188 Z" transform="translate(0.00,0) scale(43.69789547407702,41.819)" fill="#111" stroke="#111" stroke-width="0.0206"/><path d="M0.3726,0 L0.2847,0 L0.2847,-0.562 Q0.2529,-0.532 0.2012,-0.5015 Q0.1494,-0.4712 0.1084,-0.4561 L0.1084,-0.5411 Q0.1821,-0.5757 0.2373,-0.625 Q0.2925,-0.6744 0.3154,-0.7188 L0.3726,-0.7188 Z" transform="translate(48.61,0) scale(43.69789547407702,41.819)" fill="#111" stroke="#111" stroke-width="0.0206"/></g>
<g transform="translate(1021.65,383.25) scale(1,0.9984)"><text x="24.86 74.59" y="0" font-size="44.704097014598595" fill="#111" stroke="#111" stroke-width="0.9">04</text><path d="M0.3726,0 L0.2847,0 L0.2847,-0.562 Q0.2529,-0.532 0.2012,-0.5015 Q0.1494,-0.4712 0.1084,-0.4561 L0.1084,-0.5411 Q0.1821,-0.5757 0.2373,-0.625 Q0.2925,-0.6744 0.3154,-0.7188 L0.3726,-0.7188 Z" transform="translate(0.00,0) scale(44.704097014598595,42.782)" fill="#111" stroke="#111" stroke-width="0.0201"/><path d="M0.3726,0 L0.2847,0 L0.2847,-0.562 Q0.2529,-0.532 0.2012,-0.5015 Q0.1494,-0.4712 0.1084,-0.4561 L0.1084,-0.5411 Q0.1821,-0.5757 0.2373,-0.625 Q0.2925,-0.6744 0.3154,-0.7188 L0.3726,-0.7188 Z" transform="translate(49.72,0) scale(44.704097014598595,42.782)" fill="#111" stroke="#111" stroke-width="0.0201"/></g>
<g transform="translate(222.68,493.64) scale(1,1.0277)"><text x="0.00 25.15 50.29 75.44" y="0" font-size="45.21627142568698" fill="#111" stroke="#111" stroke-width="0.9">3220</text></g>
<g transform="translate(721.04,504.34) scale(1,1.0273)"><text x="24.93 49.86 74.79" y="0" font-size="44.82303499580423" fill="#111" stroke="#111" stroke-width="0.9">560</text><path d="M0.3726,0 L0.2847,0 L0.2847,-0.562 Q0.2529,-0.532 0.2012,-0.5015 Q0.1494,-0.4712 0.1084,-0.4561 L0.1084,-0.5411 Q0.1821,-0.5757 0.2373,-0.625 Q0.2925,-0.6744 0.3154,-0.7188 L0.3726,-0.7188 Z" transform="translate(0.00,0) scale(44.82303499580423,42.896)" fill="#111" stroke="#111" stroke-width="0.0201"/></g>
<g transform="translate(856.25,503.54) scale(1,1.0284)"><text x="24.90 49.80 74.70" y="0" font-size="44.77488995284417" fill="#111" stroke="#111" stroke-width="0.9">430</text><path d="M0.3726,0 L0.2847,0 L0.2847,-0.562 Q0.2529,-0.532 0.2012,-0.5015 Q0.1494,-0.4712 0.1084,-0.4561 L0.1084,-0.5411 Q0.1821,-0.5757 0.2373,-0.625 Q0.2925,-0.6744 0.3154,-0.7188 L0.3726,-0.7188 Z" transform="translate(0.00,0) scale(44.77488995284417,42.850)" fill="#111" stroke="#111" stroke-width="0.0201"/></g>
<g transform="translate(1108.38,525.25) scale(1,1.0193)"><text x="0.00 24.81 49.63" y="0" font-size="44.618461006739494" fill="#111" stroke="#111" stroke-width="0.9">808</text></g>
<g transform="translate(1196.21,522.05) scale(1,1.0142)"><text x="0.00 24.94 49.88" y="0" font-size="44.84519455513601" fill="#111" stroke="#111" stroke-width="0.9">658</text></g>
<g transform="translate(295.22,651.54) scale(1,1.0081)"><text x="0.00 25.32 50.65 75.97" y="0" font-size="45.53432898157017" fill="#111" stroke="#111" stroke-width="0.9">2925</text></g>
<g transform="translate(434.30,660.34) scale(1,0.9984)"><text x="0.00 25.57 51.14 76.71" y="0" font-size="45.977938360093326" fill="#111" stroke="#111" stroke-width="0.9">2858</text></g>
<g transform="translate(674.89,609.25) scale(1,0.9890)"><text x="25.18 50.36 75.54" y="0" font-size="45.27358630220889" fill="#111" stroke="#111" stroke-width="0.9">735</text><path d="M0.3726,0 L0.2847,0 L0.2847,-0.562 Q0.2529,-0.532 0.2012,-0.5015 Q0.1494,-0.4712 0.1084,-0.4561 L0.1084,-0.5411 Q0.1821,-0.5757 0.2373,-0.625 Q0.2925,-0.6744 0.3154,-0.7188 L0.3726,-0.7188 Z" transform="translate(0.00,0) scale(45.27358630220889,43.327)" fill="#111" stroke="#111" stroke-width="0.0199"/></g>
<g transform="translate(796.16,603.66) scale(1,0.9779)"><text x="24.82 49.64 74.46" y="0" font-size="44.63045482396405" fill="#111" stroke="#111" stroke-width="0.9">460</text><path d="M0.3726,0 L0.2847,0 L0.2847,-0.562 Q0.2529,-0.532 0.2012,-0.5015 Q0.1494,-0.4712 0.1084,-0.4561 L0.1084,-0.5411 Q0.1821,-0.5757 0.2373,-0.625 Q0.2925,-0.6744 0.3154,-0.7188 L0.3726,-0.7188 Z" transform="translate(0.00,0) scale(44.63045482396405,42.711)" fill="#111" stroke="#111" stroke-width="0.0202"/></g>
<g transform="translate(972.85,672.77) scale(1,0.9400)"><text x="25.37 50.75 76.12" y="0" font-size="45.62464860766507" fill="#111" stroke="#111" stroke-width="0.9">089</text><path d="M0.3726,0 L0.2847,0 L0.2847,-0.562 Q0.2529,-0.532 0.2012,-0.5015 Q0.1494,-0.4712 0.1084,-0.4561 L0.1084,-0.5411 Q0.1821,-0.5757 0.2373,-0.625 Q0.2925,-0.6744 0.3154,-0.7188 L0.3726,-0.7188 Z" transform="translate(0.00,0) scale(45.62464860766507,43.663)" fill="#111" stroke="#111" stroke-width="0.0197"/></g>
<g transform="translate(1164.01,626.26) scale(1,0.9805)"><text x="0.00 25.00 49.99" y="0" font-size="44.943686489220774" fill="#111" stroke="#111" stroke-width="0.9">725</text></g>
<g transform="translate(300.42,796.84) scale(1,1.0157)"><text x="0.00 25.37 76.10" y="0" font-size="45.6116544484712" fill="#111" stroke="#111" stroke-width="0.9">297</text><path d="M0.3726,0 L0.2847,0 L0.2847,-0.562 Q0.2529,-0.532 0.2012,-0.5015 Q0.1494,-0.4712 0.1084,-0.4561 L0.1084,-0.5411 Q0.1821,-0.5757 0.2373,-0.625 Q0.2925,-0.6744 0.3154,-0.7188 L0.3726,-0.7188 Z" transform="translate(50.73,0) scale(45.6116544484712,43.650)" fill="#111" stroke="#111" stroke-width="0.0197"/></g>
<g transform="translate(422.52,772.76) scale(1,0.9553)"><text x="0.00 25.41 50.82 76.23" y="0" font-size="45.68834931669081" fill="#111" stroke="#111" stroke-width="0.9">2849</text></g>
<g transform="translate(784.77,755.06) scale(1,0.9665)"><text x="25.28 50.55 75.83" y="0" font-size="45.44889060646546" fill="#111" stroke="#111" stroke-width="0.9">467</text><path d="M0.3726,0 L0.2847,0 L0.2847,-0.562 Q0.2529,-0.532 0.2012,-0.5015 Q0.1494,-0.4712 0.1084,-0.4561 L0.1084,-0.5411 Q0.1821,-0.5757 0.2373,-0.625 Q0.2925,-0.6744 0.3154,-0.7188 L0.3726,-0.7188 Z" transform="translate(0.00,0) scale(45.44889060646546,43.495)" fill="#111" stroke="#111" stroke-width="0.0198"/></g>
<g transform="translate(877.81,823.15) scale(1,0.9956)"><text x="25.09 50.18 75.27" y="0" font-size="45.11190525356452" fill="#111" stroke="#111" stroke-width="0.9">220</text><path d="M0.3726,0 L0.2847,0 L0.2847,-0.562 Q0.2529,-0.532 0.2012,-0.5015 Q0.1494,-0.4712 0.1084,-0.4561 L0.1084,-0.5411 Q0.1821,-0.5757 0.2373,-0.625 Q0.2925,-0.6744 0.3154,-0.7188 L0.3726,-0.7188 Z" transform="translate(0.00,0) scale(45.11190525356452,43.172)" fill="#111" stroke="#111" stroke-width="0.0200"/></g>
<g transform="translate(1010.41,822.26) scale(1,0.9474)"><text x="25.62 51.24 76.86" y="0" font-size="46.06723238212888" fill="#111" stroke="#111" stroke-width="0.9">078</text><path d="M0.3726,0 L0.2847,0 L0.2847,-0.562 Q0.2529,-0.532 0.2012,-0.5015 Q0.1494,-0.4712 0.1084,-0.4561 L0.1084,-0.5411 Q0.1821,-0.5757 0.2373,-0.625 Q0.2925,-0.6744 0.3154,-0.7188 L0.3726,-0.7188 Z" transform="translate(0.00,0) scale(46.06723238212888,44.086)" fill="#111" stroke="#111" stroke-width="0.0195"/></g>
<g transform="translate(1112.37,789.46) scale(1,0.9841)"><text x="0.00 24.90 49.81" y="0" font-size="44.7797575285078" fill="#111" stroke="#111" stroke-width="0.9">825</text></g>
<g transform="translate(1224.91,799.87) scale(1,0.9569)"><text x="0.00 24.87 49.75" y="0" font-size="44.72326396246782" fill="#111" stroke="#111" stroke-width="0.9">588</text></g>
<g transform="translate(304.10,932.24) scale(1,1.0030)"><text x="0.00 25.61 51.22 76.83" y="0" font-size="46.05016587013586" fill="#111" stroke="#111" stroke-width="0.9">2925</text></g>
<g transform="translate(424.27,912.75) scale(1,1.0090)"><text x="0.00 24.76 49.51 74.27" y="0" font-size="44.512660290548496" fill="#111" stroke="#111" stroke-width="0.9">2854</text></g>
<g transform="translate(732.77,903.45) scale(1,0.9852)"><text x="25.28 50.55 75.83" y="0" font-size="45.44889060646546" fill="#111" stroke="#111" stroke-width="0.9">602</text><path d="M0.3726,0 L0.2847,0 L0.2847,-0.562 Q0.2529,-0.532 0.2012,-0.5015 Q0.1494,-0.4712 0.1084,-0.4561 L0.1084,-0.5411 Q0.1821,-0.5757 0.2373,-0.625 Q0.2925,-0.6744 0.3154,-0.7188 L0.3726,-0.7188 Z" transform="translate(0.00,0) scale(45.44889060646546,43.495)" fill="#111" stroke="#111" stroke-width="0.0198"/></g>
<g transform="translate(1036.80,969.97) scale(1,0.9560)"><text x="25.14 75.43" y="0" font-size="45.20819533948464" fill="#111" stroke="#111" stroke-width="0.9">00</text><path d="M0.3726,0 L0.2847,0 L0.2847,-0.562 Q0.2529,-0.532 0.2012,-0.5015 Q0.1494,-0.4712 0.1084,-0.4561 L0.1084,-0.5411 Q0.1821,-0.5757 0.2373,-0.625 Q0.2925,-0.6744 0.3154,-0.7188 L0.3726,-0.7188 Z" transform="translate(0.00,0) scale(45.20819533948464,43.264)" fill="#111" stroke="#111" stroke-width="0.0199"/><path d="M0.3726,0 L0.2847,0 L0.2847,-0.562 Q0.2529,-0.532 0.2012,-0.5015 Q0.1494,-0.4712 0.1084,-0.4561 L0.1084,-0.5411 Q0.1821,-0.5757 0.2373,-0.625 Q0.2925,-0.6744 0.3154,-0.7188 L0.3726,-0.7188 Z" transform="translate(50.29,0) scale(45.20819533948464,43.264)" fill="#111" stroke="#111" stroke-width="0.0199"/></g>
<g transform="translate(1120.86,920.67) scale(1,0.9509)"><text x="0.00 25.03 50.06" y="0" font-size="45.00716627239758" fill="#111" stroke="#111" stroke-width="0.9">832</text></g>
<g transform="translate(850.86,264.19) rotate(-90) scale(1,0.9640)"><text x="25.10 50.20 75.30" y="0" font-size="45.128942256514904" fill="#111" stroke="#111" stroke-width="0.9">465</text><path d="M0.3726,0 L0.2847,0 L0.2847,-0.562 Q0.2529,-0.532 0.2012,-0.5015 Q0.1494,-0.4712 0.1084,-0.4561 L0.1084,-0.5411 Q0.1821,-0.5757 0.2373,-0.625 Q0.2925,-0.6744 0.3154,-0.7188 L0.3726,-0.7188 Z" transform="translate(0.00,0) scale(45.128942256514904,43.188)" fill="#111" stroke="#111" stroke-width="0.0199"/></g>
<g transform="translate(853.25,432.62) rotate(-90) scale(1,0.9859)"><text x="25.26 50.51 75.77" y="0" font-size="45.413807912049975" fill="#111" stroke="#111" stroke-width="0.9">463</text><path d="M0.3726,0 L0.2847,0 L0.2847,-0.562 Q0.2529,-0.532 0.2012,-0.5015 Q0.1494,-0.4712 0.1084,-0.4561 L0.1084,-0.5411 Q0.1821,-0.5757 0.2373,-0.625 Q0.2925,-0.6744 0.3154,-0.7188 L0.3726,-0.7188 Z" transform="translate(0.00,0) scale(45.413807912049975,43.461)" fill="#111" stroke="#111" stroke-width="0.0198"/></g>
<g transform="translate(1013.56,569.14) rotate(-90) scale(1,0.9704)"><text x="50.68 76.01" y="0" font-size="45.558591571705826" fill="#111" stroke="#111" stroke-width="0.9">33</text><path d="M0.3726,0 L0.2847,0 L0.2847,-0.562 Q0.2529,-0.532 0.2012,-0.5015 Q0.1494,-0.4712 0.1084,-0.4561 L0.1084,-0.5411 Q0.1821,-0.5757 0.2373,-0.625 Q0.2925,-0.6744 0.3154,-0.7188 L0.3726,-0.7188 Z" transform="translate(0.00,0) scale(45.558591571705826,43.600)" fill="#111" stroke="#111" stroke-width="0.0198"/><path d="M0.3726,0 L0.2847,0 L0.2847,-0.562 Q0.2529,-0.532 0.2012,-0.5015 Q0.1494,-0.4712 0.1084,-0.4561 L0.1084,-0.5411 Q0.1821,-0.5757 0.2373,-0.625 Q0.2925,-0.6744 0.3154,-0.7188 L0.3726,-0.7188 Z" transform="translate(25.34,0) scale(45.558591571705826,43.600)" fill="#111" stroke="#111" stroke-width="0.0198"/></g>
<g transform="translate(1067.27,564.44) rotate(-90) scale(1,0.9400)"><text x="25.33 75.98" y="0" font-size="45.53661504579024" fill="#111" stroke="#111" stroke-width="0.9">08</text><path d="M0.3726,0 L0.2847,0 L0.2847,-0.562 Q0.2529,-0.532 0.2012,-0.5015 Q0.1494,-0.4712 0.1084,-0.4561 L0.1084,-0.5411 Q0.1821,-0.5757 0.2373,-0.625 Q0.2925,-0.6744 0.3154,-0.7188 L0.3726,-0.7188 Z" transform="translate(0.00,0) scale(45.53661504579024,43.579)" fill="#111" stroke="#111" stroke-width="0.0198"/><path d="M0.3726,0 L0.2847,0 L0.2847,-0.562 Q0.2529,-0.532 0.2012,-0.5015 Q0.1494,-0.4712 0.1084,-0.4561 L0.1084,-0.5411 Q0.1821,-0.5757 0.2373,-0.625 Q0.2925,-0.6744 0.3154,-0.7188 L0.3726,-0.7188 Z" transform="translate(50.65,0) scale(45.53661504579024,43.579)" fill="#111" stroke="#111" stroke-width="0.0198"/></g>
<g transform="translate(71.95,1049.36) scale(1,0.9962)"><text x="0.00 29.96 59.93 89.89" y="0" font-size="53.87767872247153" fill="#111" stroke="#111" stroke-width="0.9">3500</text></g>
<g transform="translate(296.74,1049.46) scale(1,1.0050)"><text x="0.00 30.09 60.19 90.28" y="0" font-size="54.11051225195498" fill="#111" stroke="#111" stroke-width="0.9">3000</text></g>
<g transform="translate(543.60,1049.16) scale(1,0.9923)"><text x="0.00 30.00 60.00 90.01" y="0" font-size="53.946297356574355" fill="#111" stroke="#111" stroke-width="0.9">2000</text></g>
<g transform="translate(768.88,1047.97) scale(1,0.9788)"><text x="29.86 59.71 89.57" y="0" font-size="53.68172290045302" fill="#111" stroke="#111" stroke-width="0.9">500</text><path d="M0.3726,0 L0.2847,0 L0.2847,-0.562 Q0.2529,-0.532 0.2012,-0.5015 Q0.1494,-0.4712 0.1084,-0.4561 L0.1084,-0.5411 Q0.1821,-0.5757 0.2373,-0.625 Q0.2925,-0.6744 0.3154,-0.7188 L0.3726,-0.7188 Z" transform="translate(0.00,0) scale(53.68172290045302,51.373)" fill="#111" stroke="#111" stroke-width="0.0168"/></g>
<g transform="translate(995.54,1047.97) scale(1,0.9894)"><text x="29.53 59.07 88.60" y="0" font-size="53.10398238493242" fill="#111" stroke="#111" stroke-width="0.9">000</text><path d="M0.3726,0 L0.2847,0 L0.2847,-0.562 Q0.2529,-0.532 0.2012,-0.5015 Q0.1494,-0.4712 0.1084,-0.4561 L0.1084,-0.5411 Q0.1821,-0.5757 0.2373,-0.625 Q0.2925,-0.6744 0.3154,-0.7188 L0.3726,-0.7188 Z" transform="translate(0.00,0) scale(53.10398238493242,50.821)" fill="#111" stroke="#111" stroke-width="0.0169"/></g>
<g transform="translate(1235.27,1049.74) scale(1,1.0536)"><text x="0.00 29.67 59.35" y="0" font-size="53.35666638811189" fill="#111" stroke="#111" stroke-width="0.9">500</text></g>
<text transform="translate(140.22,75.50) scale(1.0,1.06)" font-size="52" font-weight="bold" fill="#111">F</text>
<text transform="translate(140.92,229.20) scale(1.0,1.06)" font-size="52" font-weight="bold" fill="#111">E</text>
<text transform="translate(145.52,410.60) scale(1.0,1.06)" font-size="52" font-weight="bold" fill="#111">D</text>
<text transform="translate(141.52,531.55) scale(1.0,1.06)" font-size="52" font-weight="bold" fill="#111">C</text>
<text transform="translate(140.92,675.50) scale(1.0,1.06)" font-size="52" font-weight="bold" fill="#111">B</text>
<text transform="translate(139.90,829.70) scale(1.0,1.06)" font-size="52" font-weight="bold" fill="#111">A</text>
<text transform="translate(81.4,799.32) rotate(-90) scale(1.0160,1)" font-size="61" font-weight="bold" fill="#111">Transmittance</text>
<text transform="translate(81.04,365.72) rotate(-90) scale(1.3173,0.9801)" font-size="61" font-weight="bold" fill="#111">(</text>
<text transform="translate(82.00,337.28) rotate(-90) scale(1.2315,0.9813)" font-size="61" font-weight="bold" fill="#111">%</text>
<text transform="translate(81.04,266.90) rotate(-90) scale(1.1389,0.9801)" font-size="61" font-weight="bold" fill="#111">)</text>
<text transform="translate(454.70,1140.20) scale(1.0107894736842107,1.06)" font-size="61" font-weight="bold" fill="#111">Wavenumber</text>
<text transform="translate(881.50,1140.20) scale(1.023142509135201,1.06)" font-size="61" font-weight="bold" fill="#111">cm</text>
<rect x="972.2" y="1102.2" width="23.3" height="3" fill="#111"/>
<text transform="translate(993.41,1118.70) scale(1.1673,1.0606)" font-size="47" font-weight="bold" fill="#111" font-family="Liberation Serif">1</text>
<text transform="translate(1024.73,1137.22) scale(1.4031,1.0663)" font-size="54" font-weight="normal" fill="#111" font-family="Liberation Serif">)</text>
<text transform="translate(854.19,1137.32) scale(1.4452,1.0663)" font-size="54" font-weight="normal" fill="#111" font-family="Liberation Serif">(</text>
</svg></body></html>
